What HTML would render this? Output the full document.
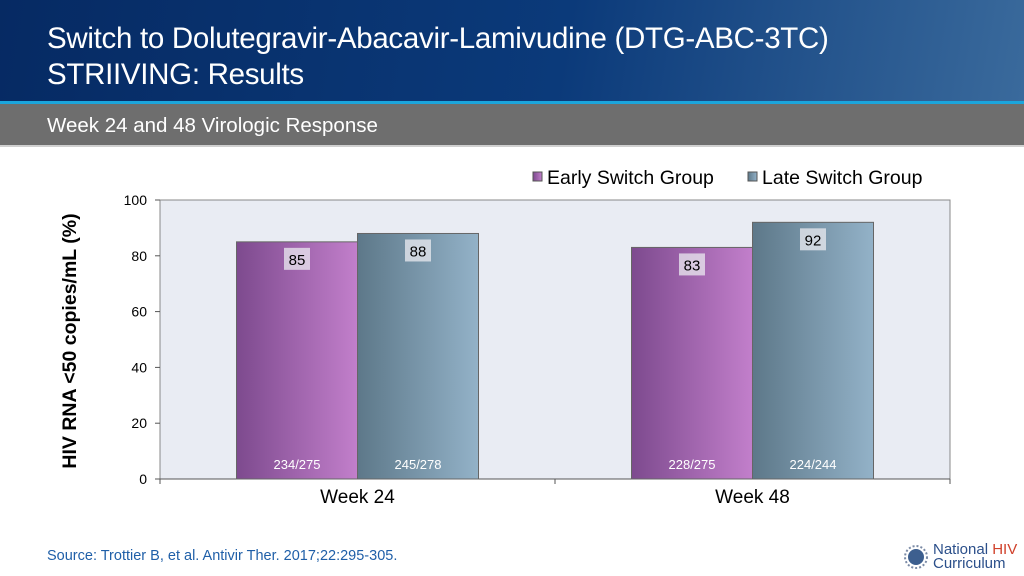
<!DOCTYPE html>
<html><head><meta charset="utf-8">
<style>
body{margin:0;width:1024px;height:576px;overflow:hidden;background:#fff;font-family:"Liberation Sans",sans-serif;position:relative}
.hdr{position:absolute;left:0;top:0;width:1024px;height:101px;background:linear-gradient(100deg,#062a63 0%,#0b3a7a 55%,#3a6a9c 100%)}
.title{position:absolute;left:47px;top:21px;color:#fff;font-size:29.5px;line-height:36px;letter-spacing:-0.3px}
.cyan{position:absolute;left:0;top:101px;width:1024px;height:3px;background:#1ba5dc}
.sub{position:absolute;left:0;top:104px;width:1024px;height:41px;background:#6e6e6e;border-bottom:2px solid #d0d0d0}
.subt{position:absolute;left:47px;top:114px;color:#fff;font-size:20.5px}
.src{position:absolute;left:47px;top:548px;color:#1f5fa8;font-size:14.5px}
.logo{position:absolute;left:933px;top:543px;font-size:15px;line-height:14px;color:#2b4f8a}
</style></head><body>
<div class="hdr"></div>
<div class="title">Switch to Dolutegravir-Abacavir-Lamivudine (DTG-ABC-3TC)<br>STRIIVING: Results</div>
<div class="cyan"></div>
<div class="sub"></div>
<div class="subt">Week 24 and 48 Virologic Response</div>
<svg id="chart" width="1024" height="576" style="position:absolute;left:0;top:0">
<defs>
<linearGradient id="gp" x1="0" x2="1"><stop offset="0" stop-color="#7d4a8e"/><stop offset="1" stop-color="#c27fcb"/></linearGradient>
<linearGradient id="gb" x1="0" x2="1"><stop offset="0" stop-color="#5d7889"/><stop offset="1" stop-color="#93b2c8"/></linearGradient>
</defs>
</svg>
<div class="src">Source: Trottier B, et al.  Antivir Ther. 2017;22:295-305.</div>
<div class="logo"><svg width="24" height="24" style="position:absolute;left:-29px;top:2px"><circle cx="12" cy="12" r="8" fill="#3d5f8f"/><circle cx="12" cy="12" r="11" fill="none" stroke="#7a8aa5" stroke-width="2" stroke-dasharray="2 2"/></svg>National <span style="color:#d0402a">HIV</span><br>Curriculum</div>
<script>
const categories=["Week 24","Week 48"];
const seriesNames=["Early Switch Group","Late Switch Group"];
const early=[85,83];
const late=[88,92];
const earlyCounts=["234/275","228/275"];
const lateCounts=["245/278","224/244"];
const yTicks=[0,20,40,60,80,100];
const NS="http://www.w3.org/2000/svg";
const svg=document.getElementById('chart');
const X0=160,X1=950,Y0=479,Y1=200;
const y=v=>Y0-(v/100)*(Y0-Y1);
const cw=(X1-X0)/categories.length;
const cx=i=>X0+cw*(i+0.5);
function mk(t,a,txt){const e=document.createElementNS(NS,t);for(const k in a)e.setAttribute(k,a[k]);if(txt!==undefined)e.textContent=txt;svg.appendChild(e);return e;}
let e=mk('rect',{x:X0,y:Y1,width:X1-X0,height:Y0-Y1,fill:'#e9ecf3',stroke:'#888','stroke-width':1});

yTicks.forEach(t=>{
 e=mk('line',{x1:X0-5,x2:X0,y1:y(t),y2:y(t),stroke:'#555'});
 
 e=mk('text',{x:X0-13,y:y(t)+5,'text-anchor':'end','font-size':14,fill:'#000'},t);
 
});
e=mk('line',{x1:X0,x2:X1,y1:Y0,y2:Y0,stroke:'#555'});

for(let i=0;i<=categories.length;i++){e=mk('line',{x1:X0+cw*i,x2:X0+cw*i,y1:Y0,y2:Y0+5,stroke:'#555'});
 }
const bw=121;
function bar(v,x0,fill,cnt,nm){
 let r=mk('rect',{x:x0,y:y(v),width:bw,height:Y0-y(v),fill:fill,stroke:'#666','stroke-width':1});
 
 let lb=mk('rect',{x:x0+bw/2-13,y:y(v)+6,width:26,height:22,fill:'rgba(235,235,240,0.75)'});
 
 let t=mk('text',{x:x0+bw/2,y:y(v)+23,'text-anchor':'middle','font-size':15,fill:'#000'},v);
 
 let c=mk('text',{x:x0+bw/2,y:Y0-10,'text-anchor':'middle','font-size':13,fill:'#fff'},cnt);
 
}
categories.forEach((c,i)=>{
 bar(early[i],cx(i)-bw,'url(#gp)',earlyCounts[i],'bar-early-'+i);
 bar(late[i],cx(i),'url(#gb)',lateCounts[i],'bar-late-'+i);
 let t=mk('text',{x:cx(i),y:503,'text-anchor':'middle','font-size':19,fill:'#000'},c);
 
});
e=mk('text',{x:0,y:0,transform:'translate(76,341) rotate(-90)','text-anchor':'middle','font-size':19.5,'font-weight':'bold',fill:'#000'},'HIV RNA <50 copies/mL (%)');

const lx=[533,748],fills=['url(#gp)','url(#gb)'];
seriesNames.forEach((n,i)=>{
 let r=mk('rect',{x:lx[i],y:172,width:9,height:9,fill:fills[i],stroke:'#555'});
 
 let t=mk('text',{x:lx[i]+14,y:184,'font-size':19.5,fill:'#000'},n);
 
});
</script>
</body></html>
